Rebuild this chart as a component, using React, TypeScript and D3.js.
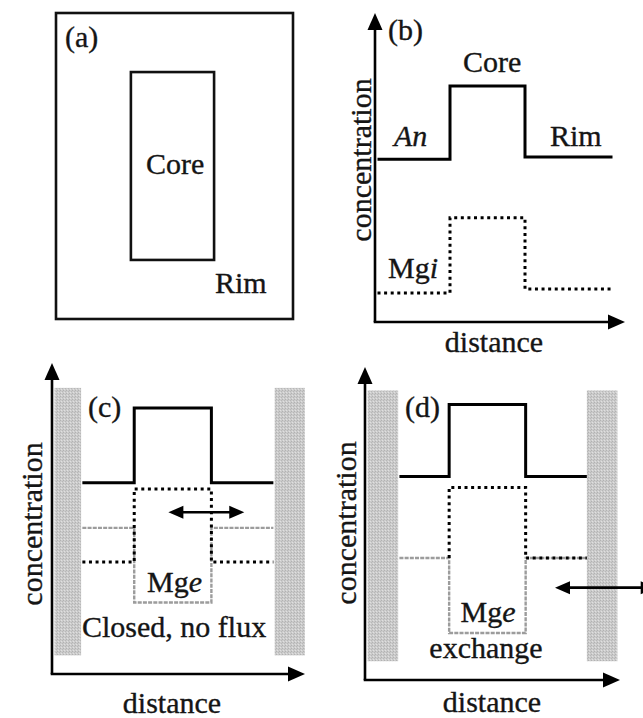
import * as d3 from 'd3';

// ── Panel (a): grain sketch, normalised box coordinates [x0, y0, x1, y1]
const grainBox = [0, 0, 1, 1];
const coreBox = [0.316, 0.193, 0.667, 0.807];

// ── Panel (b): zoning profile, distance edges (rim start, core start, core end, rim end)
const edgesB = [0.1, 3.0, 6.0, 9.5];
const anB = [5.27, 7.64, 5.34]; // rim, core, rim
const mgiB = [0.94, 3.37, 1.07];

// ── Panel (c): closed system, no flux
const edgesC = [1.2, 3.25, 6.3, 8.75];
const anC = [6.15, 8.55, 6.15];
const mgiC = [3.6, 5.95, 3.6];
const mgeC = [4.7, 2.3, 4.7];
const wallsC = [[0.1, 1.15], [8.8, 10]];
const wallSpanC = [0.6, 9.2];
const fluxC = [4.6, 7.6, 5.2]; // from, to, level

// ── Panel (d): open system, exchange
const edgesD = [1.35, 3.3, 6.3, 8.7];
const anD = [6.5, 8.8, 6.5];
const mgiD = [3.9, 6.15, 3.9];
const mgeD = [3.9, 1.5, 3.9];
const wallsD = [[0.1, 1.3], [8.7, 9.9]];
const wallSpanD = [0.6, 9.25];
const fluxD = [7.45, 11.4, 2.95];

const FONT = "'Liberation Serif', 'Times New Roman', serif";
const FS = 30;

type Pt = [number, number];

function stepPoints(edges: number[], levels: number[]): Pt[] {
  return [
    [edges[0], levels[0]],
    [edges[1], levels[0]],
    [edges[1], levels[1]],
    [edges[2], levels[1]],
    [edges[2], levels[2]],
    [edges[3], levels[2]],
  ];
}

function makeScales(xr: [number, number], yr: [number, number]) {
  const x = d3.scaleLinear().domain([0, 10]).range(xr);
  const y = d3.scaleLinear().domain([0, 10]).range(yr);
  const line = d3
    .line<Pt>()
    .x((d) => x(d[0]))
    .y((d) => y(d[1]));
  return { x, y, line };
}

function Axes({ x0, y0, top, right }: { x0: number; y0: number; top: number; right: number }) {
  const hl = 17;
  const hw = 7.5;
  return (
    <g>
      <line x1={x0} y1={y0} x2={x0} y2={top + hl - 2} stroke="#000" strokeWidth={2.6} />
      <line x1={x0 - 1.3} y1={y0} x2={right - hl + 2} y2={y0} stroke="#000" strokeWidth={2.6} />
      <path d={`M${x0},${top} L${x0 - hw},${top + hl} L${x0 + hw},${top + hl} Z`} fill="#000" />
      <path d={`M${right},${y0} L${right - hl},${y0 - hw} L${right - hl},${y0 + hw} Z`} fill="#000" />
    </g>
  );
}

function DoubleArrow({ x1, x2, y }: { x1: number; x2: number; y: number }) {
  const hl = 15;
  const hw = 6.5;
  return (
    <g>
      <line x1={x1 + hl - 2} y1={y} x2={x2 - hl + 2} y2={y} stroke="#000" strokeWidth={2.6} />
      <path d={`M${x1},${y} L${x1 + hl},${y - hw} L${x1 + hl},${y + hw} Z`} fill="#000" />
      <path d={`M${x2},${y} L${x2 - hl},${y - hw} L${x2 - hl},${y + hw} Z`} fill="#000" />
    </g>
  );
}

const solid = { fill: 'none', stroke: '#000', strokeWidth: 3, strokeLinejoin: 'miter' as const };
const dotted = { fill: 'none', stroke: '#000', strokeWidth: 3, strokeDasharray: '3,3.6' };
const greyDash = { fill: 'none', stroke: '#9c9c9c', strokeWidth: 2.4, strokeDasharray: '4,1.2' };

const textStyle = {
  fontFamily: FONT,
  fontSize: FS,
  fill: '#151515',
  stroke: '#151515',
  strokeWidth: 0.35,
};

function txt(s: any, x: number, y: number, anchor: 'start' | 'middle' = 'start') {
  return (
    <text x={x} y={y} textAnchor={anchor} {...textStyle}>
      {s}
    </text>
  );
}

function yLabel(x: number, y: number) {
  return (
    <text transform={`translate(${x},${y}) rotate(-90)`} textAnchor="middle" {...textStyle}>
      concentration
    </text>
  );
}

export default function App() {
  // (a)
  const ax = d3.scaleLinear().domain([0, 1]).range([56, 293]);
  const ay = d3.scaleLinear().domain([0, 1]).range([13, 319]);
  const box = (b: number[]) => (
    <rect
      x={ax(b[0])}
      y={ay(b[1])}
      width={ax(b[2]) - ax(b[0])}
      height={ay(b[3]) - ay(b[1])}
      fill="none"
      stroke="#111"
      strokeWidth={2.6}
    />
  );

  // (b)
  const b = makeScales([375, 625], [322, 13]);
  // (c)
  const c = makeScales([52, 305], [674, 363]);
  // (d)
  const dd = makeScales([365, 620], [680, 367]);

  const walls = (s: typeof c, ws: number[][], span: number[]) =>
    ws.map((w, i) => (
      <rect
        key={i}
        x={s.x(w[0])}
        y={s.y(span[1])}
        width={s.x(w[1]) - s.x(w[0])}
        height={s.y(span[0]) - s.y(span[1])}
        fill="url(#stipple)"
      />
    ));

  return (
    <svg
      width={643}
      height={718}
      style={{ position: 'absolute', left: 0, top: 0, background: '#fff' }}
    >
      <defs>
        <pattern id="stipple" width={3} height={3} patternUnits="userSpaceOnUse">
          <rect width={3} height={3} fill="#cbcbcb" />
          <rect x={0} y={0} width={1} height={1} fill="#b2b2b2" />
          <rect x={2} y={1} width={1} height={1} fill="#b8b8b8" />
          <rect x={1} y={2} width={1} height={1} fill="#e0e0e0" />
        </pattern>
      </defs>
      <rect width={643} height={718} fill="#fff" />

      {/* ── (a) ── */}
      {box(grainBox)}
      {box(coreBox)}
      {txt('(a)', 65, 47)}
      {txt('Core', 146, 174)}
      {txt('Rim', 215, 293)}

      {/* ── (b) ── */}
      <path d={b.line(stepPoints(edgesB, mgiB))!} {...dotted} />
      <path d={b.line(stepPoints(edgesB, anB))!} {...solid} />
      <Axes x0={b.x(0)} y0={b.y(0)} top={b.y(10)} right={b.x(10)} />
      {txt('(b)', 388, 40)}
      {txt('Core', 463, 72)}
      <text x={394} y={146} fontStyle="italic" {...textStyle}>
        An
      </text>
      {txt('Rim', 550, 146)}
      <text x={388} y={278} {...textStyle}>
        Mg<tspan fontStyle="italic">i</tspan>
      </text>
      {txt('distance', 494, 352, 'middle')}
      {yLabel(371, 160)}

      {/* ── (c) ── */}
      {walls(c, wallsC, wallSpanC)}
      <path d={c.line(stepPoints(edgesC, mgeC))!} {...greyDash} />
      <path d={c.line(stepPoints(edgesC, mgiC))!} {...dotted} />
      <path d={c.line(stepPoints(edgesC, anC))!} {...solid} />
      <DoubleArrow x1={c.x(fluxC[0])} x2={c.x(fluxC[1])} y={c.y(fluxC[2])} />
      <Axes x0={c.x(0)} y0={c.y(0)} top={c.y(10)} right={c.x(10)} />
      {txt('(c)', 88, 417)}
      <text x={147} y={592} {...textStyle}>
        Mg<tspan fontStyle="italic">e</tspan>
      </text>
      {txt('Closed, no flux', 82, 637)}
      {txt('distance', 172, 713, 'middle')}
      {yLabel(42, 524)}

      {/* ── (d) ── */}
      {walls(dd, wallsD, wallSpanD)}
      <path d={dd.line(stepPoints(edgesD, mgeD))!} {...greyDash} />
      <path d={dd.line(stepPoints(edgesD, mgiD).slice(1))!} {...dotted} />
      <path d={dd.line(stepPoints(edgesD, anD))!} {...solid} />
      <DoubleArrow x1={dd.x(fluxD[0])} x2={dd.x(fluxD[1])} y={dd.y(fluxD[2])} />
      <Axes x0={dd.x(0)} y0={dd.y(0)} top={dd.y(10)} right={dd.x(10)} />
      {txt('(d)', 405, 417)}
      <text x={488} y={622} textAnchor="middle" {...textStyle}>
        Mg<tspan fontStyle="italic">e</tspan>
      </text>
      {txt('exchange', 486, 658, 'middle')}
      {txt('distance', 492, 712, 'middle')}
      {yLabel(356, 523)}
    </svg>
  );
}
